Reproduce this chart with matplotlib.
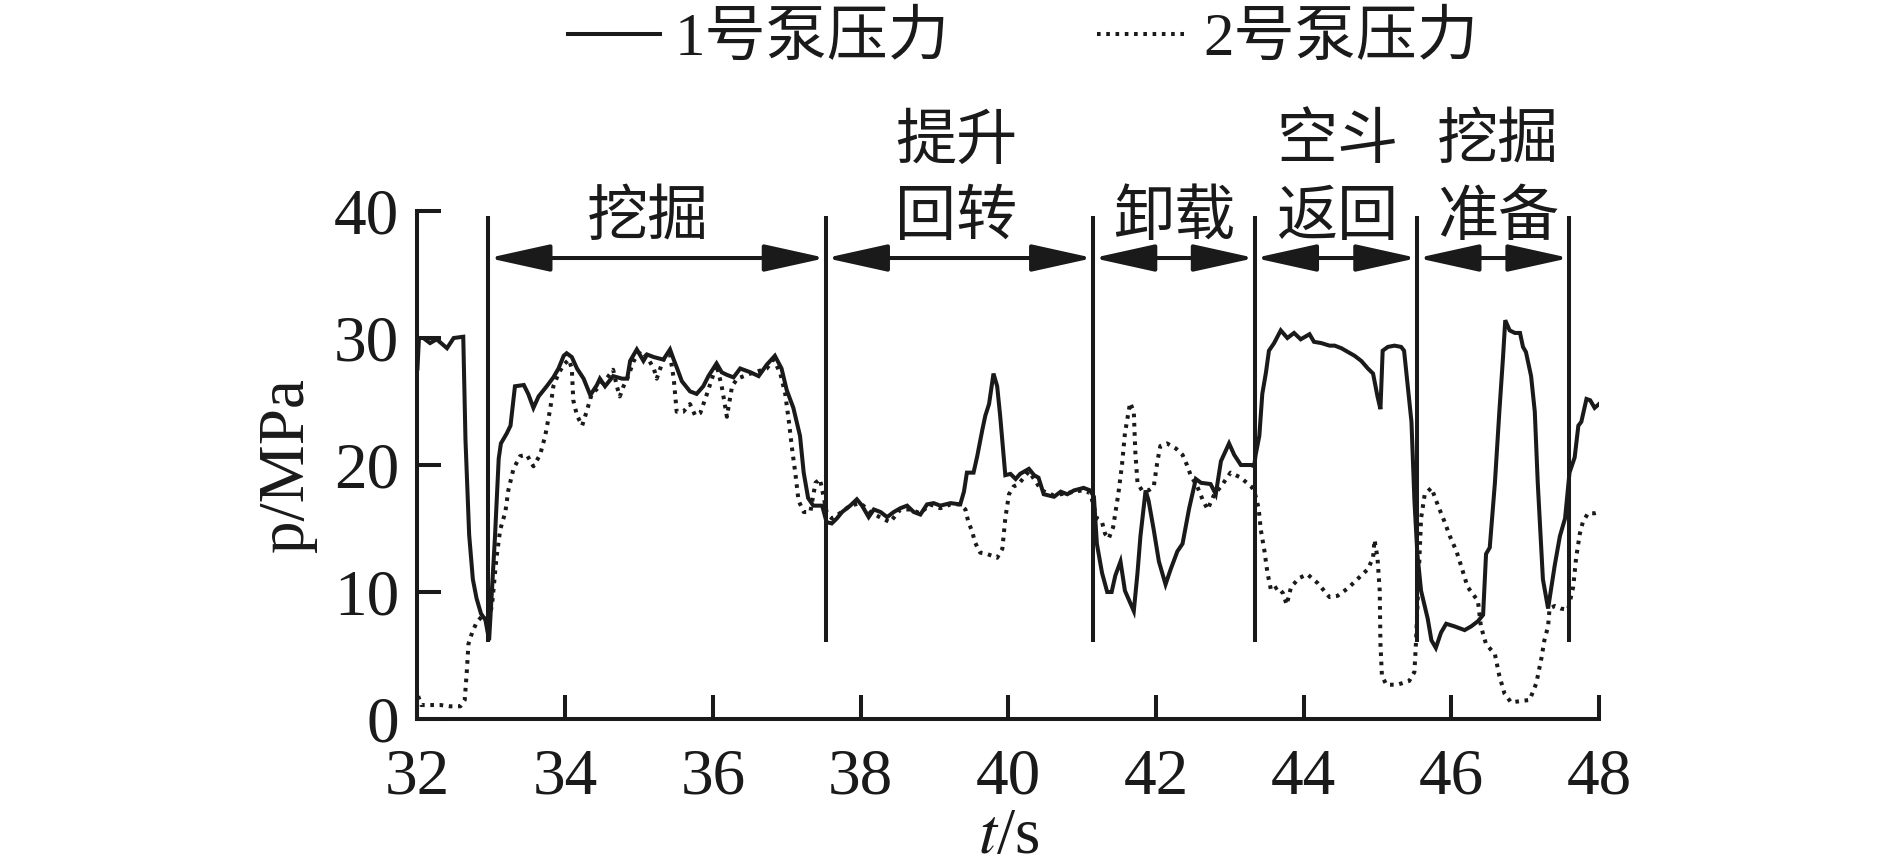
import matplotlib
matplotlib.use('Agg')
import matplotlib.pyplot as plt
from matplotlib.patches import FancyArrowPatch

plt.rcParams['font.family'] = ['Liberation Serif', 'Noto Sans CJK SC']
plt.rcParams['mathtext.fontset'] = 'stix'

# ---------------- data ----------------
t_pump1 = [32.00, 32.02, 32.08, 32.17, 32.26, 32.40, 32.49, 32.62, 32.65, 32.70, 32.75, 32.80, 32.86, 32.92, 32.97,
           33.05, 33.10, 33.13, 33.21, 33.26, 33.32, 33.44, 33.50, 33.57, 33.64, 33.75, 33.84, 33.91, 33.98,
           34.02, 34.09, 34.16, 34.25, 34.34, 34.43, 34.47, 34.54, 34.65, 34.77, 34.84, 34.88, 34.97,
           35.06, 35.11, 35.20, 35.33, 35.42, 35.47, 35.51, 35.58, 35.69, 35.78, 35.87, 35.94,
           36.05, 36.12, 36.19, 36.28, 36.37, 36.51, 36.62, 36.73, 36.84, 36.93,
           37.00, 37.09, 37.18, 37.23, 37.29, 37.36, 37.48, 37.54, 37.61, 37.68, 37.75, 37.86, 37.95,
           38.02, 38.11, 38.18, 38.27, 38.36, 38.45, 38.54, 38.63, 38.72, 38.81, 38.90, 38.99,
           39.08, 39.22, 39.35, 39.40, 39.44, 39.53, 39.58, 39.65, 39.69, 39.74, 39.80, 39.85, 39.89, 39.96,
           40.03, 40.10, 40.16, 40.28, 40.35, 40.41, 40.48, 40.62, 40.71, 40.80, 40.89,
           41.02, 41.11, 41.16, 41.20, 41.27, 41.34, 41.40, 41.45, 41.52, 41.58, 41.70, 41.75, 41.79, 41.86, 41.90, 41.97,
           42.04, 42.13, 42.20, 42.29, 42.36, 42.45, 42.54, 42.61, 42.74, 42.81, 42.88, 42.99,
           43.06, 43.15, 43.29, 43.33, 43.35, 43.40, 43.44, 43.49, 43.53, 43.60, 43.69, 43.78, 43.87, 43.96,
           44.08, 44.14, 44.24, 44.35, 44.42, 44.51, 44.60, 44.69, 44.78, 44.87, 44.94,
           45.00, 45.04, 45.07, 45.14, 45.23, 45.32, 45.36, 45.41, 45.46, 45.50, 45.54, 45.59, 45.68, 45.73, 45.79, 45.86, 45.93,
           46.04, 46.18, 46.27, 46.36, 46.43, 46.47, 46.52, 46.59, 46.65, 46.70, 46.73, 46.79, 46.86, 46.93, 46.97,
           47.01, 47.08, 47.13, 47.17, 47.24, 47.31, 47.40, 47.47, 47.54, 47.60, 47.67, 47.72, 47.76, 47.83, 47.88, 47.94, 48.00]
p_pump1 = [27.6, 30.0, 30.0, 29.6, 29.9, 29.2, 30.0, 30.1, 22.0, 14.5, 11.0, 9.5, 8.3, 7.8, 6.2,
           14.4, 20.5, 21.7, 22.5, 23.1, 26.2, 26.3, 25.6, 24.5, 25.4, 26.2, 26.9, 27.6, 28.6,
           28.8, 28.5, 27.6, 26.8, 25.5, 26.3, 26.8, 26.2, 27.0, 26.8, 26.8, 28.2, 29.1,
           28.2, 28.7, 28.5, 28.3, 29.1, 28.3, 27.7, 26.6, 25.8, 25.6, 26.2, 27.0,
           28.0, 27.3, 27.1, 26.9, 27.6, 27.3, 27.0, 27.9, 28.6, 27.6,
           25.9, 24.5, 22.3, 19.4, 17.4, 16.8, 16.8, 15.5, 15.4, 15.8, 16.3, 16.8, 17.3,
           16.8, 15.9, 16.5, 16.3, 15.9, 16.3, 16.6, 16.8, 16.3, 16.1, 16.9, 17.0,
           16.8, 17.0, 16.9, 17.9, 19.4, 19.4, 20.7, 22.8, 23.9, 24.8, 27.2, 26.2, 23.9, 19.2,
           19.3, 18.9, 19.3, 19.7, 19.2, 19.0, 17.7, 17.5, 17.9, 17.7, 18.0,
           18.2, 18.0, 17.5, 13.8, 11.5, 10.0, 10.0, 11.3, 12.4, 10.1, 8.5, 11.5, 14.4, 18.0, 17.2, 14.9,
           12.4, 10.6, 11.8, 13.2, 13.8, 16.6, 18.9, 18.6, 18.5, 17.7, 20.3, 21.7,
           20.8, 20.0, 20.0, 19.9, 20.8, 22.3, 25.6, 27.3, 29.0, 29.6, 30.6, 30.0, 30.4, 29.9,
           30.3, 29.7, 29.6, 29.4, 29.4, 29.2, 28.9, 28.6, 28.2, 27.6, 27.2,
           25.4, 24.4, 29.0, 29.3, 29.4, 29.3, 29.0, 26.2, 23.4, 17.2, 13.0, 10.1, 7.9, 6.2, 5.6, 6.8, 7.5,
           7.3, 7.0, 7.3, 7.7, 8.2, 13.0, 13.5, 18.6, 24.2, 28.5, 31.4, 30.6, 30.4, 30.4, 29.3,
           28.9, 27.0, 24.2, 18.6, 11.0, 8.7, 12.1, 14.4, 15.8, 19.4, 20.6, 23.1, 23.4, 25.2, 25.1, 24.5, 24.8]

t_pump2 = [32.01, 32.05, 32.17, 32.31, 32.44, 32.58, 32.64, 32.67, 32.69, 32.74, 32.80, 32.89, 32.96,
           33.01, 33.07, 33.12, 33.19, 33.23, 33.30, 33.39, 33.48, 33.57, 33.66, 33.73, 33.80, 33.84, 33.91, 33.98,
           34.05, 34.09, 34.11, 34.16, 34.23, 34.29, 34.36, 34.47, 34.56, 34.65, 34.70, 34.74, 34.79, 34.84, 34.93,
           35.02, 35.11, 35.20, 35.24, 35.33, 35.42, 35.47, 35.51, 35.60, 35.69, 35.76, 35.83, 35.92,
           36.05, 36.12, 36.19, 36.26, 36.33, 36.51, 36.73, 36.82, 36.91, 36.98,
           37.03, 37.07, 37.12, 37.16, 37.23, 37.32, 37.39, 37.45, 37.50, 37.54, 37.61, 37.72, 37.86,
           38.00, 38.13, 38.29, 38.40, 38.54, 38.67, 38.81, 38.94,
           39.08, 39.22, 39.35, 39.42, 39.46, 39.51, 39.55, 39.62, 39.71, 39.85, 39.92, 39.96,
           40.01, 40.07, 40.14, 40.28, 40.45, 40.62, 40.80,
           41.00, 41.11, 41.20, 41.27, 41.31, 41.36, 41.42, 41.49, 41.54, 41.58, 41.65, 41.70, 41.72, 41.75, 41.81, 41.90, 41.97,
           42.02, 42.06, 42.15, 42.27, 42.36, 42.42, 42.47, 42.56, 42.63, 42.70, 42.79, 42.88,
           43.01, 43.15, 43.29, 43.33, 43.39, 43.42, 43.47, 43.51, 43.56, 43.65, 43.72, 43.77, 43.83, 43.94,
           44.05, 44.19, 44.35, 44.46, 44.60, 44.78, 44.87, 44.94, 44.96,
           45.00, 45.03, 45.04, 45.06, 45.12, 45.27, 45.43, 45.50, 45.52, 45.54, 45.57, 45.59, 45.64, 45.73, 45.82, 45.91, 45.98,
           46.07, 46.13, 46.22, 46.36, 46.40, 46.47, 46.59, 46.65, 46.72, 46.81, 46.92,
           47.06, 47.15, 47.22, 47.26, 47.31, 47.33, 47.40, 47.48, 47.58, 47.65, 47.69, 47.74, 47.78, 47.85, 47.94, 48.00]
p_pump2 = [1.8, 1.1, 1.1, 1.1, 1.0, 1.0, 1.5, 3.9, 5.9, 6.8, 7.6, 8.2, 7.6,
           9.0, 12.7, 14.9, 16.3, 18.0, 19.7, 20.7, 20.8, 19.9, 20.8, 22.3, 24.5, 26.2, 27.2, 27.9,
           28.3, 27.6, 25.1, 23.9, 23.1, 24.2, 25.6, 26.2, 26.8, 27.5, 26.2, 25.4, 26.2, 26.8, 28.2,
           29.0, 28.5, 27.6, 26.8, 28.3, 28.7, 26.8, 24.2, 24.2, 24.8, 23.9, 24.1, 25.6,
           27.9, 26.2, 23.8, 26.2, 26.8, 27.2, 27.6, 28.3, 27.3, 25.6,
           23.4, 21.4, 19.2, 17.2, 16.3, 16.3, 18.6, 18.9, 17.5, 16.3, 15.8, 16.2, 16.8,
           17.0, 16.3, 15.8, 15.5, 16.5, 16.5, 16.2, 16.9,
           16.6, 16.9, 16.9, 16.5, 15.5, 14.8, 13.9, 13.1, 13.0, 12.7, 13.4, 15.8,
           17.7, 18.3, 18.5, 19.5, 18.0, 17.6, 17.8,
           18.0, 17.8, 15.8, 15.5, 14.6, 14.2, 15.1, 17.7, 20.0, 22.5, 24.9, 24.2, 21.1, 18.6, 18.0, 18.0, 18.3,
           20.3, 21.5, 21.7, 21.3, 20.8, 20.0, 19.2, 18.3, 17.3, 16.5, 17.7, 18.3,
           19.4, 19.0, 18.3, 18.0, 16.6, 14.9, 13.2, 11.5, 10.1, 10.4, 9.9, 9.0, 10.4, 11.1,
           11.4, 10.7, 9.6, 9.7, 10.3, 11.3, 11.8, 12.7, 14.1,
           12.7, 10.1, 5.9, 3.4, 2.7, 2.7, 3.0, 3.7, 5.9, 8.7, 13.0, 15.8, 17.7, 18.2, 16.8, 15.5, 14.4,
           13.2, 12.1, 10.4, 9.3, 7.3, 5.9, 5.1, 3.4, 2.0, 1.3, 1.4,
           1.5, 2.8, 4.8, 6.2, 7.3, 8.7, 8.9, 8.7, 8.6, 10.4, 12.7, 14.6, 15.5, 16.2, 16.2, 16.3]

series_labels = ['1号泵压力', '2号泵压力']
phase_bounds = [32.96, 37.53, 41.15, 43.34, 45.54, 47.60]
phase_names = [['挖掘'], ['提升', '回转'], ['卸载'], ['空斗', '返回'], ['挖掘', '准备']]
phase_label_x = [35.12, 39.30, 42.25, 44.46, 46.63]
x_ticks = [32, 34, 36, 38, 40, 42, 44, 46, 48]
y_ticks = [0, 10, 20, 30, 40]

# ---------------- figure ----------------
INK = '#1a1a1a'
LW = 2.9
fig = plt.figure(figsize=(18.89, 8.67), dpi=100)
ax = fig.add_axes([0.2210, 0.1707, 0.6255, 0.5859])

l1, = ax.plot(t_pump1, p_pump1, color=INK, lw=LW, solid_joinstyle='miter', label=series_labels[0])
l2, = ax.plot(t_pump2, p_pump2, color=INK, lw=LW, linestyle=(0, (0.9, 1.4)), label=series_labels[1])

ax.set_xlim(32, 48)
ax.set_ylim(0, 40)
ax.set_xticks(x_ticks)
ax.set_yticks(y_ticks)
for s in ['top', 'right']:
    ax.spines[s].set_visible(False)
for s in ['left', 'bottom']:
    ax.spines[s].set_linewidth(LW)
    ax.spines[s].set_color(INK)
ax.tick_params(axis='both', direction='in', length=17, width=LW, color=INK, labelsize=47, labelcolor=INK)
ax.tick_params(axis='x', pad=21)
ax.tick_params(axis='y', pad=13)

# phase boundaries
ax.vlines(phase_bounds, 6.1, 39.6, color=INK, lw=LW)
arrow_y = 36.3
for a, b in zip(phase_bounds[:-1], phase_bounds[1:]):
    arr = FancyArrowPatch((a, arrow_y), (b, arrow_y),
                          arrowstyle='<|-|>,head_length=1.9,head_width=0.42',
                          mutation_scale=20, lw=LW, color=INK,
                          shrinkA=0, shrinkB=0, clip_on=False)
    ax.add_patch(arr)

line_gap = 6.0
for x, lines in zip(phase_label_x, phase_names):
    n = len(lines)
    for i, txt in enumerate(lines):
        y = 39.5 + (n - 1 - i) * line_gap
        ax.text(x, y, txt, ha='center', va='center', fontsize=44, color=INK,
                family=['Noto Sans CJK SC'], clip_on=False)

ax.set_xlabel(r'$t$/s', fontsize=47, color=INK)
ax.xaxis.set_label_coords(0.5, -0.263)
ax.xaxis.label.set_verticalalignment('baseline')
ax.set_ylabel('p/MPa', fontsize=47, color=INK)
ax.yaxis.set_label_coords(-0.1105, 0.50)
ax.yaxis.label.set_verticalalignment('center')

fig.legend(handles=[l1, l2], labels=series_labels, loc='center', bbox_to_anchor=(0.5417, 0.954),
           ncol=2, frameon=False, fontsize=44, handlelength=1.5, handletextpad=0.25,
           columnspacing=2.4, borderaxespad=0, borderpad=0, labelcolor=INK)

fig.savefig('out.png', dpi=100)
